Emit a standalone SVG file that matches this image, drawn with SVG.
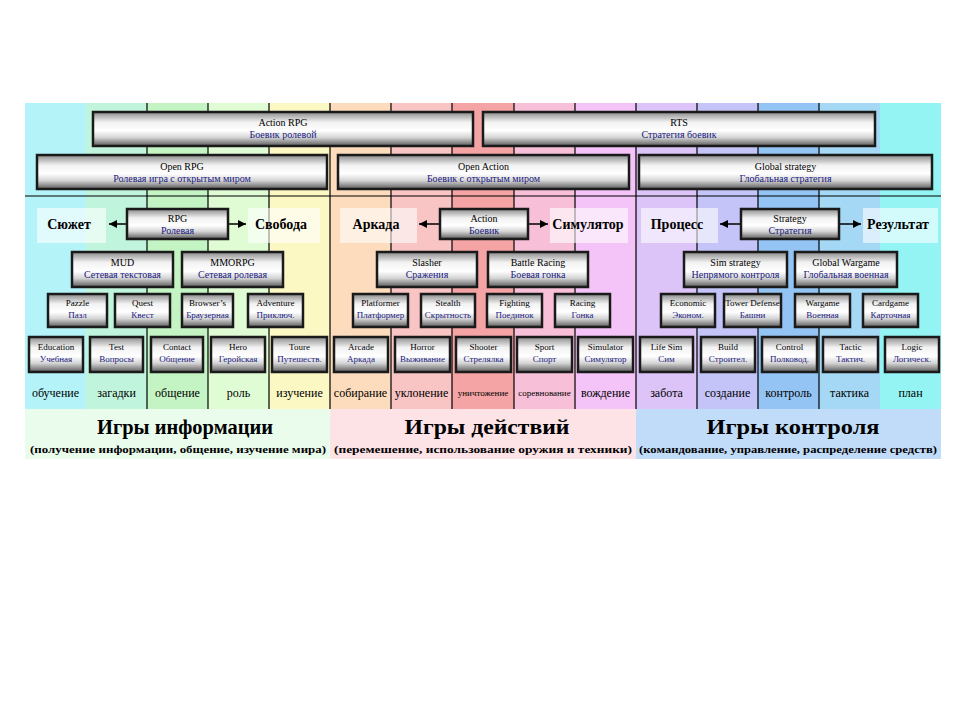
<svg xmlns="http://www.w3.org/2000/svg" width="960" height="720" viewBox="0 0 960 720" font-family="'Liberation Serif', 'DejaVu Serif', serif">
<defs>
<linearGradient id="boxg" x1="0" y1="0" x2="0" y2="1">
<stop offset="0" stop-color="#8a8a8a"/>
<stop offset="0.3" stop-color="#f2f2f2"/>
<stop offset="0.55" stop-color="#ffffff"/>
<stop offset="0.75" stop-color="#d4d4d4"/>
<stop offset="1" stop-color="#5a5a5a"/>
</linearGradient>
<marker id="ah" viewBox="0 0 10 10" refX="10" refY="5" markerWidth="9" markerHeight="8" markerUnits="userSpaceOnUse" orient="auto">
<path d="M0,0 L10,5 L0,10 z" fill="#000"/>
</marker>
<style>
.box{fill:url(#boxg);stroke:#1a1a1a;stroke-width:2.5}
text{font-family:'Liberation Serif','DejaVu Serif',serif;text-anchor:middle}
.en{font-size:10px;fill:#000}
.ru{font-size:10px;fill:#1a1a80}
.s .en,.s .ru{font-size:9px}
.div{stroke:#000;stroke-width:1.2}
.lab{font-size:12px;fill:#000}
.labs{font-size:9px;fill:#000}
.big{font-size:14px;font-weight:bold;fill:#000}
.lbox{fill:#ffffff;fill-opacity:0.6}
.title{font-size:22px;font-weight:bold;fill:#000}
.sub{font-size:11px;font-weight:bold;fill:#000}
.arr{stroke:#000;stroke-width:1.5;fill:none;marker-end:url(#ah)}
</style>
</defs>
<rect width="960" height="720" fill="#ffffff"/>
<g id="background">
<rect x="25" y="103" width="61" height="306" fill="#b4f4f8"/>
<rect x="86" y="103" width="61" height="306" fill="#c0f4dc"/>
<rect x="147" y="103" width="61" height="306" fill="#c4f4c4"/>
<rect x="208" y="103" width="61" height="306" fill="#e0fcd4"/>
<rect x="269" y="103" width="61" height="306" fill="#fcf8c4"/>
<rect x="330" y="103" width="61" height="306" fill="#fcdcbc"/>
<rect x="391" y="103" width="61" height="306" fill="#f8c4c4"/>
<rect x="452" y="103" width="62" height="306" fill="#f4a4a4"/>
<rect x="514" y="103" width="61" height="306" fill="#f8c0d8"/>
<rect x="575" y="103" width="61" height="306" fill="#f4c4f8"/>
<rect x="636" y="103" width="61" height="306" fill="#dcc4f8"/>
<rect x="697" y="103" width="61" height="306" fill="#c4c4f8"/>
<rect x="758" y="103" width="61" height="306" fill="#94c4f4"/>
<rect x="819" y="103" width="61" height="306" fill="#a4d8f4"/>
<rect x="880" y="103" width="61" height="306" fill="#94f4f4"/>
<rect x="25" y="409" width="305" height="50" fill="#eafcec"/>
<rect x="330" y="409" width="306" height="50" fill="#fde2e6"/>
<rect x="636" y="409" width="305" height="50" fill="#c0dcf8"/>
<line class="div" x1="147" y1="103" x2="147" y2="409"/>
<line class="div" x1="208" y1="103" x2="208" y2="409"/>
<line class="div" x1="269" y1="103" x2="269" y2="409"/>
<line class="div" x1="330" y1="103" x2="330" y2="409"/>
<line class="div" x1="391" y1="103" x2="391" y2="409"/>
<line class="div" x1="452" y1="103" x2="452" y2="409"/>
<line class="div" x1="514" y1="103" x2="514" y2="409"/>
<line class="div" x1="575" y1="103" x2="575" y2="409"/>
<line class="div" x1="636" y1="103" x2="636" y2="409"/>
<line class="div" x1="697" y1="103" x2="697" y2="409"/>
<line class="div" x1="758" y1="103" x2="758" y2="409"/>
<line class="div" x1="819" y1="103" x2="819" y2="409"/>
<line class="div" x1="25" y1="196" x2="941" y2="196"/>
</g>
<g id="row1">
<g id="n-action-rpg"><rect class="box" x="93" y="112" width="380" height="34"/><text class="en" x="283" y="126">Action RPG</text><text class="ru" x="283" y="138">Боевик ролевой</text></g>
<g id="n-rts"><rect class="box" x="483" y="112" width="392" height="34"/><text class="en" x="679" y="126">RTS</text><text class="ru" x="679" y="138">Стратегия боевик</text></g>
</g>
<g id="row2">
<g id="n-open-rpg"><rect class="box" x="37" y="155" width="290" height="34"/><text class="en" x="182" y="170">Open RPG</text><text class="ru" x="182" y="182">Ролевая игра с открытым миром</text></g>
<g id="n-open-action"><rect class="box" x="338" y="155" width="291" height="34"/><text class="en" x="483.5" y="170">Open Action</text><text class="ru" x="483.5" y="182">Боевик с открытым миром</text></g>
<g id="n-global-strategy"><rect class="box" x="639" y="155" width="293" height="34"/><text class="en" x="785.5" y="170">Global strategy</text><text class="ru" x="785.5" y="182">Глобальная стратегия</text></g>
</g>
<g id="labels-top">
<g id="l-syuzhet"><rect class="lbox" x="37" y="208" width="69" height="35"/><text class="big" x="69" y="229">Сюжет</text></g>
<g id="l-svoboda"><rect class="lbox" x="248" y="208" width="72" height="35"/><text class="big" x="281" y="229">Свобода</text></g>
<g id="l-arkada"><rect class="lbox" x="340" y="208" width="77" height="35"/><text class="big" x="376" y="229">Аркада</text></g>
<g id="l-simulyator"><rect class="lbox" x="550" y="208" width="78" height="35"/><text class="big" x="588" y="229">Симулятор</text></g>
<g id="l-protsess"><rect class="lbox" x="641" y="208" width="77" height="35"/><text class="big" x="677" y="229">Процесс</text></g>
<g id="l-rezultat"><rect class="lbox" x="863" y="208" width="75" height="35"/><text class="big" x="898" y="229">Результат</text></g>
</g>
<g id="connectors">
<line class="arr" x1="127" y1="224" x2="109" y2="224"/>
<line class="arr" x1="228" y1="224" x2="246" y2="224"/>
<line class="arr" x1="440" y1="224" x2="419" y2="224"/>
<line class="arr" x1="528" y1="224" x2="548" y2="224"/>
<line class="arr" x1="741" y1="224" x2="720" y2="224"/>
<line class="arr" x1="839" y1="224" x2="861" y2="224"/>
</g>
<g id="row3">
<g id="n-rpg"><rect class="box" x="127" y="209" width="101" height="30"/><text class="en" x="177.5" y="222">RPG</text><text class="ru" x="177.5" y="234">Ролевая</text></g>
<g id="n-action"><rect class="box" x="440" y="209" width="88" height="30"/><text class="en" x="484" y="222">Action</text><text class="ru" x="484" y="234">Боевик</text></g>
<g id="n-strategy"><rect class="box" x="741" y="209" width="98" height="30"/><text class="en" x="790" y="222">Strategy</text><text class="ru" x="790" y="234">Стратегия</text></g>
</g>
<g id="row4">
<g id="n-mud"><rect class="box" x="72" y="252" width="101" height="35"/><text class="en" x="122.5" y="266">MUD</text><text class="ru" x="122.5" y="278">Сетевая текстовая</text></g>
<g id="n-mmorpg"><rect class="box" x="182" y="252" width="101" height="35"/><text class="en" x="232.5" y="266">MMORPG</text><text class="ru" x="232.5" y="278">Сетевая ролевая</text></g>
<g id="n-slasher"><rect class="box" x="377" y="252" width="100" height="35"/><text class="en" x="427" y="266">Slasher</text><text class="ru" x="427" y="278">Сражения</text></g>
<g id="n-battle-racing"><rect class="box" x="488" y="252" width="100" height="35"/><text class="en" x="538" y="266">Battle Racing</text><text class="ru" x="538" y="278">Боевая гонка</text></g>
<g id="n-sim-strategy"><rect class="box" x="684" y="252" width="103" height="35"/><text class="en" x="735.5" y="266">Sim strategy</text><text class="ru" x="735.5" y="278">Непрямого контроля</text></g>
<g id="n-global-wargame"><rect class="box" x="795" y="252" width="102" height="35"/><text class="en" x="846" y="266">Global Wargame</text><text class="ru" x="846" y="278">Глобальная военная</text></g>
</g>
<g id="row5" class="s">
<g id="n-pazzle"><rect class="box" x="48" y="294" width="59" height="33"/><text class="en" x="77.5" y="306">Pazzle</text><text class="ru" x="77.5" y="318">Пазл</text></g>
<g id="n-quest"><rect class="box" x="115" y="294" width="55" height="33"/><text class="en" x="142.5" y="306">Quest</text><text class="ru" x="142.5" y="318">Квест</text></g>
<g id="n-browsers"><rect class="box" x="182" y="294" width="51" height="33"/><text class="en" x="207.5" y="306">Browser’s</text><text class="ru" x="207.5" y="318">Браузерная</text></g>
<g id="n-adventure"><rect class="box" x="248" y="294" width="55" height="33"/><text class="en" x="275.5" y="306">Adventure</text><text class="ru" x="275.5" y="318">Приключ.</text></g>
<g id="n-platformer"><rect class="box" x="353" y="294" width="55" height="33"/><text class="en" x="380.5" y="306">Platformer</text><text class="ru" x="380.5" y="318">Платформер</text></g>
<g id="n-stealth"><rect class="box" x="421" y="294" width="54" height="33"/><text class="en" x="448" y="306">Stealth</text><text class="ru" x="448" y="318">Скрытность</text></g>
<g id="n-fighting"><rect class="box" x="487" y="294" width="55" height="33"/><text class="en" x="514.5" y="306">Fighting</text><text class="ru" x="514.5" y="318">Поединок</text></g>
<g id="n-racing"><rect class="box" x="555" y="294" width="55" height="33"/><text class="en" x="582.5" y="306">Racing</text><text class="ru" x="582.5" y="318">Гонка</text></g>
<g id="n-economic"><rect class="box" x="661" y="294" width="54" height="33"/><text class="en" x="688" y="306">Economic</text><text class="ru" x="688" y="318">Эконом.</text></g>
<g id="n-tower-defense"><rect class="box" x="724" y="294" width="57" height="33"/><text class="en" x="752.5" y="306">Tower Defense</text><text class="ru" x="752.5" y="318">Башни</text></g>
<g id="n-wargame"><rect class="box" x="795" y="294" width="55" height="33"/><text class="en" x="822.5" y="306">Wargame</text><text class="ru" x="822.5" y="318">Военная</text></g>
<g id="n-cardgame"><rect class="box" x="863" y="294" width="55" height="33"/><text class="en" x="890.5" y="306">Cardgame</text><text class="ru" x="890.5" y="318">Карточная</text></g>
</g>
<g id="row6" class="s">
<g id="n-education"><rect class="box" x="29" y="337" width="54" height="35"/><text class="en" x="56" y="350">Education</text><text class="ru" x="56" y="362">Учебная</text></g>
<g id="n-test"><rect class="box" x="90" y="337" width="53" height="35"/><text class="en" x="116.5" y="350">Test</text><text class="ru" x="116.5" y="362">Вопросы</text></g>
<g id="n-contact"><rect class="box" x="151" y="337" width="52" height="35"/><text class="en" x="177" y="350">Contact</text><text class="ru" x="177" y="362">Общение</text></g>
<g id="n-hero"><rect class="box" x="211" y="337" width="54" height="35"/><text class="en" x="238" y="350">Hero</text><text class="ru" x="238" y="362">Геройская</text></g>
<g id="n-toure"><rect class="box" x="272" y="337" width="55" height="35"/><text class="en" x="299.5" y="350">Toure</text><text class="ru" x="299.5" y="362">Путешеств.</text></g>
<g id="n-arcade"><rect class="box" x="334" y="337" width="54" height="35"/><text class="en" x="361" y="350">Arcade</text><text class="ru" x="361" y="362">Аркада</text></g>
<g id="n-horror"><rect class="box" x="395" y="337" width="55" height="35"/><text class="en" x="422.5" y="350">Horror</text><text class="ru" x="422.5" y="362">Выживание</text></g>
<g id="n-shooter"><rect class="box" x="456" y="337" width="55" height="35"/><text class="en" x="483.5" y="350">Shooter</text><text class="ru" x="483.5" y="362">Стрелялка</text></g>
<g id="n-sport"><rect class="box" x="517" y="337" width="55" height="35"/><text class="en" x="544.5" y="350">Sport</text><text class="ru" x="544.5" y="362">Спорт</text></g>
<g id="n-simulator"><rect class="box" x="578" y="337" width="55" height="35"/><text class="en" x="605.5" y="350">Simulator</text><text class="ru" x="605.5" y="362">Симулятор</text></g>
<g id="n-life-sim"><rect class="box" x="640" y="337" width="53" height="35"/><text class="en" x="666.5" y="350">Life Sim</text><text class="ru" x="666.5" y="362">Сим</text></g>
<g id="n-build"><rect class="box" x="701" y="337" width="54" height="35"/><text class="en" x="728" y="350">Build</text><text class="ru" x="728" y="362">Строител.</text></g>
<g id="n-control"><rect class="box" x="762" y="337" width="55" height="35"/><text class="en" x="789.5" y="350">Control</text><text class="ru" x="789.5" y="362">Полковод.</text></g>
<g id="n-tactic"><rect class="box" x="823" y="337" width="55" height="35"/><text class="en" x="850.5" y="350">Tactic</text><text class="ru" x="850.5" y="362">Тактич.</text></g>
<g id="n-logic"><rect class="box" x="885" y="337" width="54" height="35"/><text class="en" x="912" y="350">Logic</text><text class="ru" x="912" y="362">Логическ.</text></g>
</g>
<g id="labels-bottom">
<text class="lab" x="55.5" y="397">обучение</text>
<text class="lab" x="116.5" y="397">загадки</text>
<text class="lab" x="177.5" y="397">общение</text>
<text class="lab" x="238.5" y="397">роль</text>
<text class="lab" x="299.5" y="397">изучение</text>
<text class="lab" x="360.5" y="397">собирание</text>
<text class="lab" x="421.5" y="397">уклонение</text>
<text class="labs" x="483" y="396">уничтожение</text>
<text class="labs" x="544.5" y="396">соревнование</text>
<text class="lab" x="605.5" y="397">вождение</text>
<text class="lab" x="666.5" y="397">забота</text>
<text class="lab" x="727.5" y="397">создание</text>
<text class="lab" x="788.5" y="397">контроль</text>
<text class="lab" x="849.5" y="397">тактика</text>
<text class="lab" x="910.5" y="397">план</text>
</g>
<g id="sections">
<g id="s-info"><text class="title" x="185" y="434" textLength="176" lengthAdjust="spacingAndGlyphs">Игры информации</text><text class="sub" x="178" y="453" textLength="296" lengthAdjust="spacingAndGlyphs">(получение информации, общение, изучение мира)</text></g>
<g id="s-action"><text class="title" x="487" y="434" textLength="165" lengthAdjust="spacingAndGlyphs">Игры действий</text><text class="sub" x="483" y="453" textLength="298" lengthAdjust="spacingAndGlyphs">(перемешение, использование оружия и техники)</text></g>
<g id="s-control"><text class="title" x="793" y="434" textLength="173" lengthAdjust="spacingAndGlyphs">Игры контроля</text><text class="sub" x="788" y="453" textLength="298" lengthAdjust="spacingAndGlyphs">(командование, управление, распределение средств)</text></g>
</g>
</svg>
